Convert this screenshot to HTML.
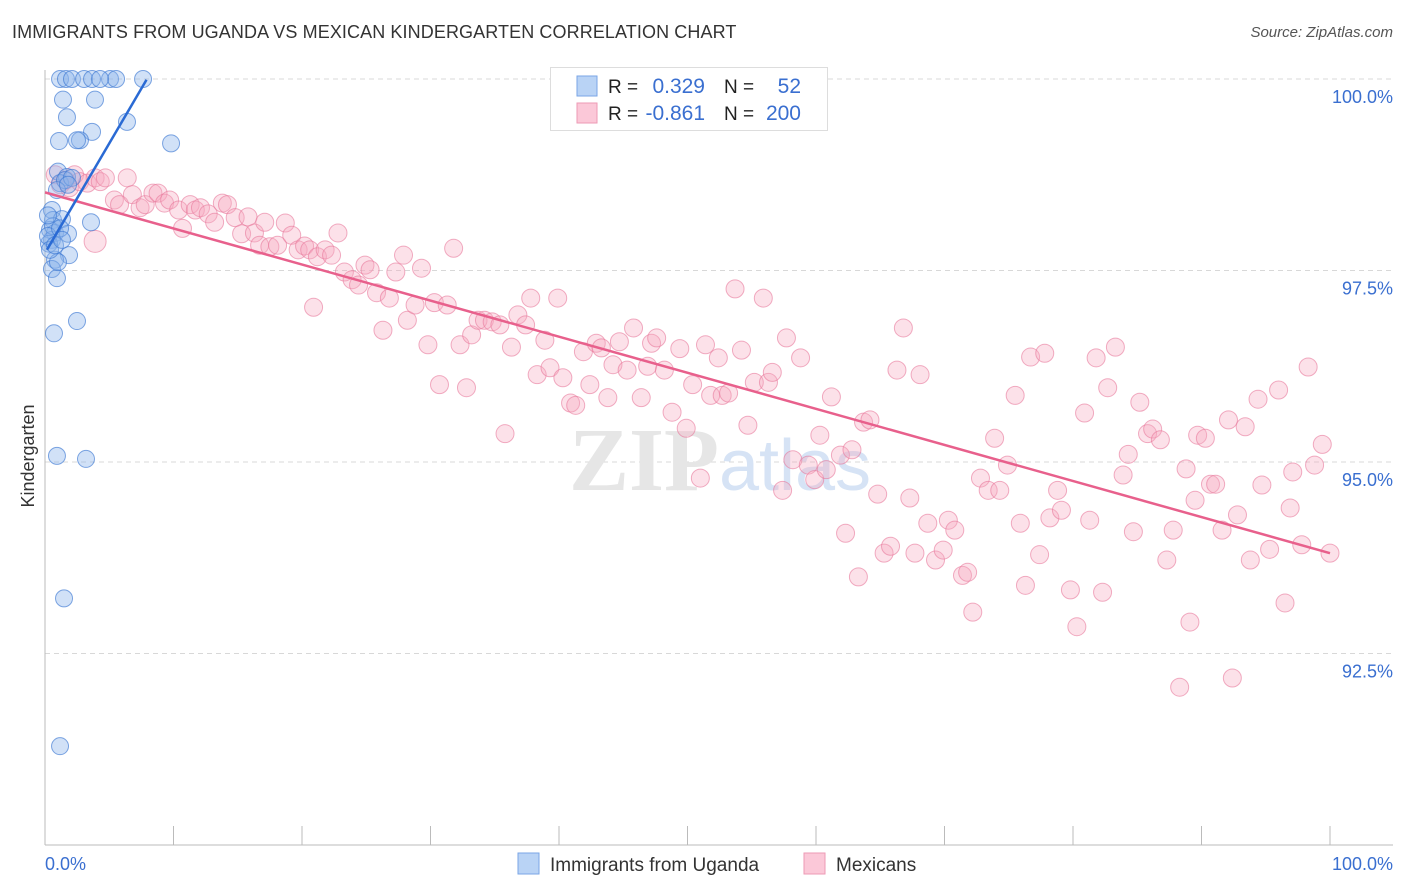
<!DOCTYPE html>
<html><head><meta charset="utf-8">
<style>
body{margin:0;background:#fff;font-family:"Liberation Sans",sans-serif;}
#wrap{position:relative;width:1406px;height:892px;overflow:hidden;}
.title{position:absolute;left:12px;top:22px;font-size:18px;color:#333;letter-spacing:0.1px;}
.source{position:absolute;right:13px;top:24px;font-size:15px;color:#555;font-style:italic;}
</style></head>
<body>
<div id="wrap">
<div class="title">IMMIGRANTS FROM UGANDA VS MEXICAN KINDERGARTEN CORRELATION CHART</div>
<div class="source">Source: ZipAtlas.com</div>
<svg id="chart" width="1406" height="892" style="position:absolute;left:0;top:0"></svg>
</div>
<script>
const yTicks=[100,97.5,95,92.5];
const yTickLabels=["100.0%","97.5%","95.0%","92.5%"];
const xTickVals=[0,10,20,30,40,50,60,70,80,90,100];
const ugX=[1.17,1.63,2.1,3.04,3.66,5.06,5.53,7.63,1.4,3.89,1.71,6.38,3.66,1.09,2.72,2.49,9.81,1.01,1.71,1.17,0.54,0.62,1.32,0.39,0.78,1.79,0.54,0.31,3.58,1.87,0.78,0.54,0.93,2.49,0.7,0.93,3.19,1.48,1.17,0.62,0.23,1.01,0.39,1.17,1.56,2.1,0.23,0.78,1.32,4.28,0.93,1.79];
const ugY=[100,100,100,100,100,100,100,100,99.73,99.73,99.5,99.44,99.31,99.19,99.2,99.2,99.16,98.79,98.72,98.64,98.29,98.16,98.17,98.03,97.99,97.98,97.9,97.85,98.13,97.7,97.64,97.52,97.4,96.84,96.68,95.08,95.04,93.22,91.29,98.08,97.95,97.61,97.77,98.05,98.68,98.71,98.22,97.83,97.9,100,98.55,98.62];
const mxX=[0.8,1.2,1.6,1.9,2.3,2.7,3.3,3.9,4.3,4.7,5.4,5.8,6.4,6.8,7.4,7.8,8.4,8.8,9.3,9.7,10.4,10.7,11.3,11.7,12.1,12.7,13.2,13.8,14.2,14.8,15.3,15.8,16.3,16.7,17.1,17.5,18.1,18.7,19.2,19.7,20.2,20.6,21.2,21.8,22.3,22.8,23.3,23.9,24.4,24.9,25.3,25.8,26.3,26.8,27.3,27.9,28.2,28.8,29.3,29.8,30.3,30.7,31.3,31.8,32.3,32.8,33.2,33.7,34.2,34.8,35.4,35.8,36.3,36.8,37.4,37.8,38.3,38.9,39.3,39.9,40.3,40.9,41.3,41.9,42.4,42.9,43.3,43.8,44.2,44.7,45.3,45.8,46.4,46.9,47.2,47.6,48.2,48.8,49.4,49.9,50.4,51.0,51.4,51.8,52.4,52.7,53.2,53.7,54.2,54.7,55.2,55.9,56.3,56.6,57.4,57.7,58.2,58.8,59.4,59.9,60.3,60.8,61.2,61.9,62.3,62.8,63.3,63.7,64.2,64.8,65.3,65.8,66.3,66.8,67.3,67.7,68.1,68.7,69.3,69.9,70.3,70.8,71.4,71.8,72.2,72.8,73.4,73.9,74.3,74.9,75.5,75.9,76.3,76.7,77.4,77.8,78.2,78.8,79.1,79.8,80.3,80.9,81.3,81.8,82.3,82.7,83.3,83.9,84.3,84.7,85.2,85.8,86.2,86.8,87.3,87.8,88.3,88.8,89.1,89.5,89.7,90.3,90.7,91.1,91.6,92.1,92.4,92.8,93.4,93.8,94.4,94.7,95.3,96.0,96.5,96.9,97.1,97.8,98.3,98.8,99.4,100,3.9,20.9];
const mxY=[98.75,98.62,98.68,98.58,98.75,98.66,98.64,98.71,98.66,98.71,98.42,98.36,98.71,98.49,98.32,98.36,98.51,98.51,98.38,98.42,98.29,98.05,98.36,98.29,98.32,98.24,98.13,98.38,98.36,98.19,97.98,98.2,97.99,97.83,98.13,97.81,97.83,98.12,97.96,97.77,97.82,97.77,97.68,97.77,97.7,97.99,97.48,97.38,97.31,97.57,97.51,97.21,96.72,97.14,97.48,97.7,96.85,97.05,97.53,96.53,97.08,96.01,97.05,97.79,96.53,95.97,96.66,96.85,96.85,96.83,96.79,95.37,96.5,96.92,96.79,97.14,96.14,96.59,96.23,97.14,96.1,95.77,95.74,96.44,96.01,96.55,96.49,95.84,96.27,96.57,96.2,96.75,95.84,96.25,96.55,96.62,96.2,95.65,96.48,95.44,96.01,94.79,96.53,95.87,96.36,95.87,95.9,97.26,96.46,95.48,96.04,97.14,96.04,96.17,94.63,96.62,95.03,96.36,94.96,94.77,95.35,94.9,95.85,95.09,94.07,95.16,93.5,95.52,95.55,94.58,93.81,93.9,96.2,96.75,94.53,93.81,96.14,94.2,93.72,93.85,94.24,94.11,93.52,93.56,93.04,94.79,94.63,95.31,94.63,94.96,95.87,94.2,93.39,96.37,93.79,96.42,94.27,94.63,94.37,93.33,92.85,95.64,94.24,96.36,93.3,95.97,96.5,94.83,95.1,94.09,95.78,95.37,95.43,95.29,93.72,94.11,92.06,94.91,92.91,94.5,95.35,95.31,94.71,94.71,94.11,95.55,92.18,94.31,95.46,93.72,95.82,94.7,93.86,95.94,93.16,94.4,94.87,93.92,96.24,94.96,95.23,93.81,97.88,97.02];
const ugTrendX=[0.15,7.9];
const ugTrendY=[97.77,99.99];
const mxTrendX=[0,100];
const mxTrendY=[98.52,93.81];

const NS="http://www.w3.org/2000/svg";
const svg=document.getElementById('chart');
const X0=45,X1=1330,Y0=79,YB=845;
function xs(v){return X0+(v/100)*(X1-X0);}
function ys(v){return Y0+(100-v)/10*(YB-Y0);}
function mk(t,a){const e=document.createElementNS(NS,t);for(const k in a)e.setAttribute(k,a[k]);svg.appendChild(e);return e;}

yTicks.forEach((v,i)=>{
 const g=mk('line',{x1:45,x2:1393,y1:ys(v),y2:ys(v),stroke:'#d8d8d8','stroke-dasharray':'5,4','stroke-width':1});
 
 
 const t=mk('text',{x:1393,y:ys(v)+24,'text-anchor':'end','font-size':18,fill:'#3a6fd0','font-family':'Liberation Sans, sans-serif'});
 t.textContent=yTickLabels[i];
 
 
});
const ax=mk('line',{x1:45,x2:1393,y1:845,y2:845,stroke:'#bbb','stroke-width':1});


const ay=mk('line',{x1:45,x2:45,y1:70,y2:845,stroke:'#bbb','stroke-width':1});


xTickVals.forEach(v=>{
 const l=mk('line',{x1:xs(v),x2:xs(v),y1:826,y2:845,stroke:'#bbb','stroke-width':1});
 
 
});
const wm=mk('text',{x:720,y:490,'text-anchor':'middle','font-size':90,fill:'#e6e6e6','font-family':'Liberation Serif, serif','font-weight':'bold'});
wm.innerHTML='ZIP<tspan fill="#d6e3f5" font-family="Liberation Sans, sans-serif" font-weight="normal" font-size="72">atlas</tspan>';



mxX.forEach((v,i)=>{
 const c=mk('circle',{cx:xs(v),cy:ys(mxY[i]),r:(i===mxX.length-2)?11:9,fill:'rgba(247,168,192,0.35)',stroke:'rgba(232,120,155,0.6)','stroke-width':1});
 
 
});
ugX.forEach((v,i)=>{
 const c=mk('circle',{cx:xs(v),cy:ys(ugY[i]),r:8.5,fill:'rgba(140,180,235,0.4)',stroke:'rgba(60,120,210,0.65)','stroke-width':1});
 
 
});
const tl1=mk('line',{x1:xs(mxTrendX[0]),y1:ys(mxTrendY[0]),x2:xs(mxTrendX[1]),y2:ys(mxTrendY[1]),stroke:'#e8608c','stroke-width':2.5});


const tl2=mk('line',{x1:xs(ugTrendX[0]),y1:ys(ugTrendY[0]),x2:xs(ugTrendX[1]),y2:ys(ugTrendY[1]),stroke:'#2a6ad4','stroke-width':2.5});



function txt(x,y,s,fill,size,anchor,name){const t=mk('text',{x:x,y:y,'font-size':size,fill:fill,'text-anchor':anchor||'start','font-family':'Liberation Sans, sans-serif'});t.textContent=s;return t;}
txt(45,870,'0.0%','#3a6fd0',18,'start','x-min-label');
txt(1393,870,'100.0%','#3a6fd0',18,'end','x-max-label');
const yt=txt(0,0,'Kindergarten','#333',18,'middle','y-axis-title');
yt.setAttribute('transform','translate(34,456) rotate(-90)');

// legend box
const lb=mk('rect',{x:550.5,y:67.5,width:277,height:63,fill:'#fff',stroke:'#ddd'});


const s1=mk('rect',{x:577,y:76,width:20,height:20,fill:'#b9d3f5',stroke:'#7aa6e6'});


const s2=mk('rect',{x:577,y:103,width:20,height:20,fill:'#fbc8d8',stroke:'#ee9ab5'});


txt(608,93,'R =','#222',19,'start','r-label');
txt(705,93,'0.329','#3a6fd0',21,'end','uganda-r');
txt(724,93,'N =','#222',19,'start','n-label');
txt(801,93,'52','#3a6fd0',21,'end','uganda-n');
txt(608,120,'R =','#222',19,'start','r-label');
txt(705,120,'-0.861','#3a6fd0',21,'end','mexican-r');
txt(724,120,'N =','#222',19,'start','n-label');
txt(801,120,'200','#3a6fd0',21,'end','mexican-n');

// bottom legend
const b1=mk('rect',{x:518,y:853,width:21,height:21,fill:'#b9d3f5',stroke:'#7aa6e6'});


txt(550,871,'Immigrants from Uganda','#333',19,'start','legend-uganda-label');
const b2=mk('rect',{x:804,y:853,width:21,height:21,fill:'#fbc8d8',stroke:'#ee9ab5'});


txt(836,871,'Mexicans','#333',19,'start','legend-mexican-label');
</script>
</body></html>
